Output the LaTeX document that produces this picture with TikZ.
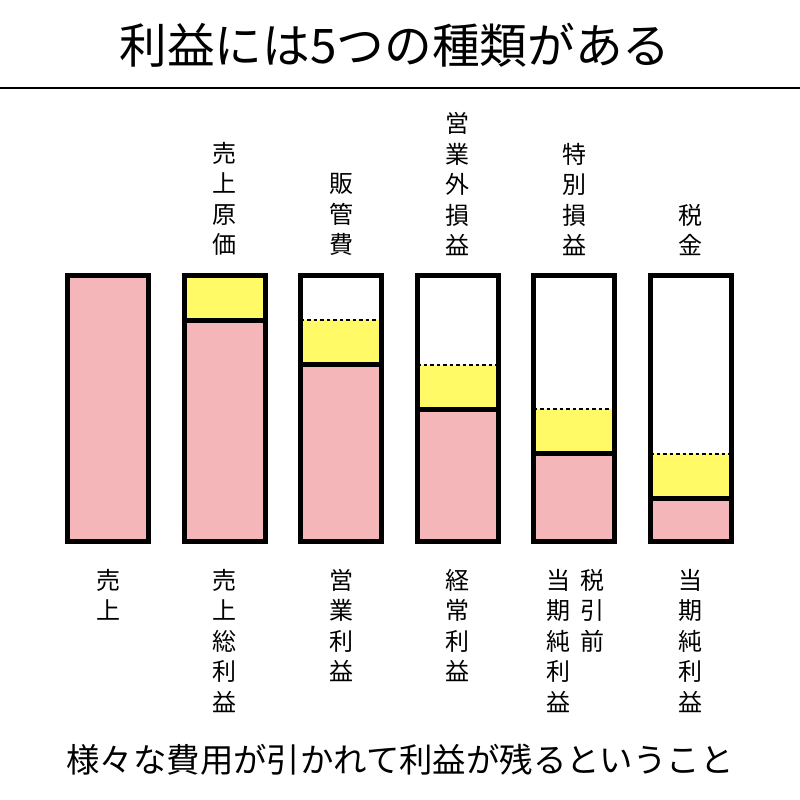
\documentclass[tikz,border=0pt]{standalone}
\usepackage{fontspec}
\newfontfamily\cjk{Noto Sans CJK JP}
\definecolor{barpink}{HTML}{F4B6B8}
\definecolor{baryellow}{HTML}{FFFA66}
\begin{document}
\begin{tikzpicture}[x=1pt,y=-1pt,
  outline/.style={draw=black,line width=5pt},
  solidsep/.style={draw=black,line width=5pt},
  dashsep/.style={draw=black,line width=2pt,dash pattern=on 3.5pt off 3pt},
  vlabel/.style={font=\cjk\fontsize{24}{30.5}\selectfont,align=center,inner sep=0pt},
  titletext/.style={font=\cjk\fontsize{47.7}{50}\selectfont,inner sep=0pt},
  bottomtext/.style={font=\cjk\fontsize{33.4}{36}\selectfont,inner sep=0pt}]
\useasboundingbox (0,0) rectangle (800,800);
\fill[white] (0,0) rectangle (800,800);
% title
\node[titletext] (title) at (395,45) {利益には5つの種類がある};
\coordinate (hl) at (0,88);
\coordinate (hr) at (800,88);
\draw[line width=2pt] (hl) -- (hr);
% bars
\def\bt{275.5}\def\bb{541.5}\def\hw{40.5}
% bar 1
\fill[barpink] (108-\hw,\bt) rectangle (108+\hw,\bb);
\draw[outline] (108-\hw,\bt) rectangle (108+\hw,\bb);
% bars 2-6
\foreach \k/\c in {1/224.5,2/341,3/457.5,4/574,5/690.5}{
  \pgfmathsetmacro{\yd}{275.5+44.5*(\k-1)}
  \pgfmathsetmacro{\ys}{275.5+44.5*\k}
  \fill[baryellow] (\c-\hw,\yd) rectangle (\c+\hw,\ys);
  \fill[barpink] (\c-\hw,\ys) rectangle (\c+\hw,\bb);
  \ifnum\k>1
    \draw[dashsep] (\c-\hw,\yd) -- (\c+\hw,\yd);
  \fi
  \draw[solidsep] (\c-\hw,\ys) -- (\c+\hw,\ys);
  \draw[outline] (\c-\hw,\bt) rectangle (\c+\hw,\bb);
}
% top labels
\node[vlabel,anchor=south] (t2) at (224.5,256) {売\\上\\原\\価};
\node[vlabel,anchor=south] (t3) at (341,256) {販\\管\\費};
\node[vlabel,anchor=south] (t4) at (457.5,256) {営\\業\\外\\損\\益};
\node[vlabel,anchor=south] (t5) at (574,256) {特\\別\\損\\益};
\node[vlabel,anchor=south] (t6) at (690.5,256) {税\\金};
% bottom labels
\node[vlabel,anchor=north] (b1) at (108,569) {売\\上};
\node[vlabel,anchor=north] (b2) at (224.5,569) {売\\上\\総\\利\\益};
\node[vlabel,anchor=north] (b3) at (341,569) {営\\業\\利\\益};
\node[vlabel,anchor=north] (b4) at (457.5,569) {経\\常\\利\\益};
\node[vlabel,anchor=north] (b5a) at (558,569) {当\\期\\純\\利\\益};
\node[vlabel,anchor=north] (b5b) at (592,569) {税\\引\\前};
\node[vlabel,anchor=north] (b6) at (690.5,569) {当\\期\\純\\利\\益};
% bottom text
\node[bottomtext] (foot) at (400,760) {様々な費用が引かれて利益が残るということ};
\end{tikzpicture}
\end{document}
